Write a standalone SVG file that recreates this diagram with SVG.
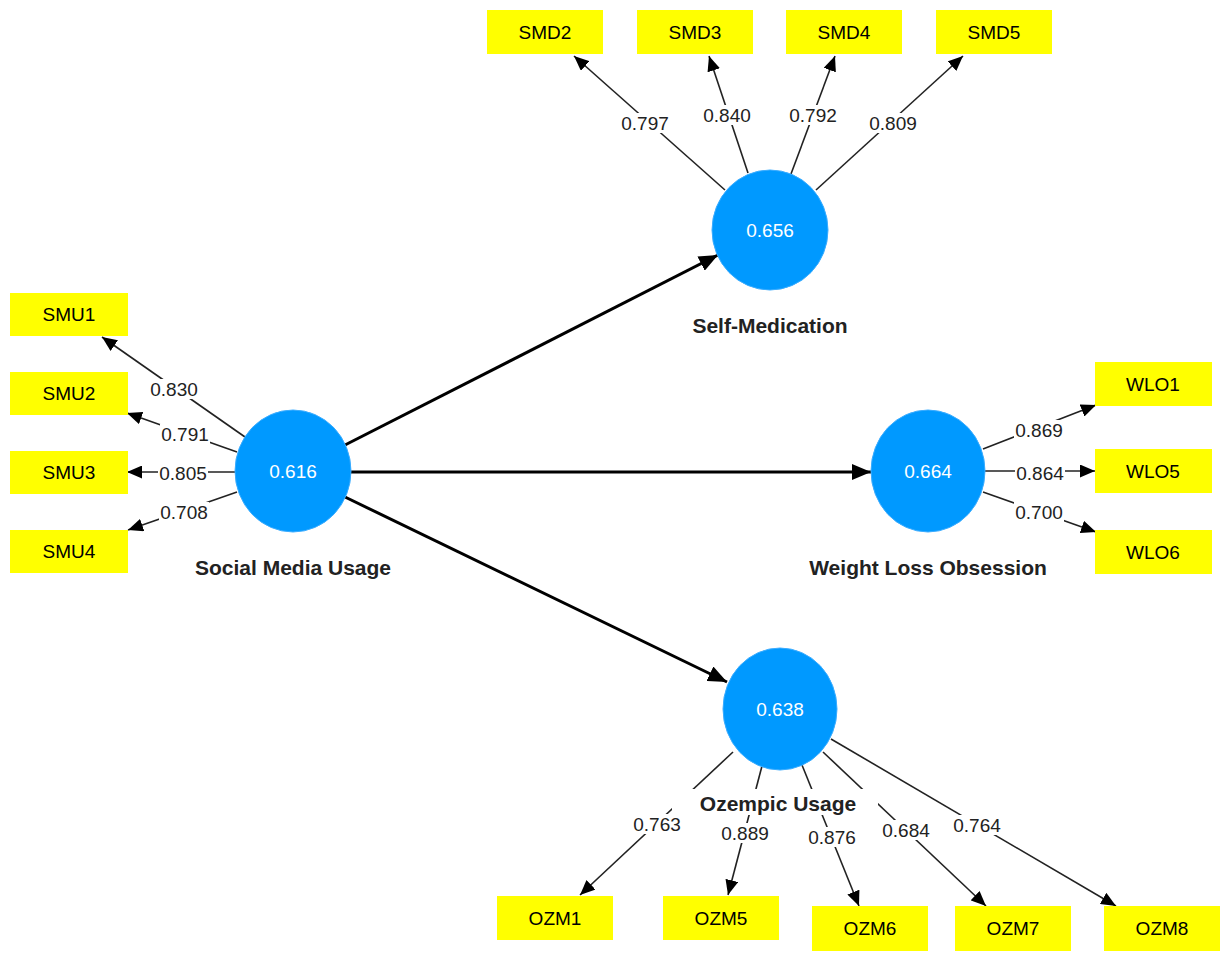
<svg xmlns="http://www.w3.org/2000/svg" width="1229" height="960" viewBox="0 0 1229 960">
<style>
.box{fill:#ffff00}
.bt{font-family:"Liberation Sans",Arial,sans-serif;font-size:19px;fill:#000;text-anchor:middle}
.lv{fill:#0099ff;stroke:#3aacff;stroke-width:1}
.lvt{font-family:"Liberation Sans",Arial,sans-serif;font-size:19px;fill:#fff;text-anchor:middle}
.name{font-family:"Liberation Sans",Arial,sans-serif;font-size:21px;font-weight:bold;fill:#222;text-anchor:middle}
.ld{stroke:#222;stroke-width:1.6;fill:none;marker-end:url(#ah)}
.st{stroke:#000;stroke-width:3;fill:none;marker-end:url(#ahb)}
.bg{fill:#fff}
.lb{font-family:"Liberation Sans",Arial,sans-serif;font-size:19px;fill:#222;text-anchor:middle}
</style>
<defs>
<marker id="ah" viewBox="0 0 10 10" refX="10" refY="5" markerUnits="userSpaceOnUse" markerWidth="15" markerHeight="13" orient="auto" preserveAspectRatio="none"><path d="M0,0 L10,5 L0,10 z" fill="#000"/></marker>
<marker id="ahb" viewBox="0 0 10 10" refX="10" refY="5" markerUnits="userSpaceOnUse" markerWidth="19" markerHeight="16" orient="auto" preserveAspectRatio="none"><path d="M0,0 L10,5 L0,10 z" fill="#000"/></marker>
</defs>
<rect width="1229" height="960" fill="#fff"/>
<g id="connectors">
<line class="ld" x1="245" y1="437" x2="102" y2="337"/>
<line class="ld" x1="237" y1="452" x2="127" y2="413"/>
<line class="ld" x1="236" y1="472" x2="127" y2="472"/>
<line class="ld" x1="237" y1="492" x2="128" y2="530"/>
<line class="ld" x1="725" y1="190" x2="574" y2="56"/>
<line class="ld" x1="748" y1="173" x2="709" y2="56"/>
<line class="ld" x1="791" y1="174" x2="835" y2="56"/>
<line class="ld" x1="816" y1="190" x2="963" y2="56"/>
<line class="ld" x1="983" y1="449" x2="1096" y2="405"/>
<line class="ld" x1="985" y1="471" x2="1095" y2="471"/>
<line class="ld" x1="983" y1="492" x2="1096" y2="532"/>
<line class="ld" x1="733" y1="752" x2="580" y2="895"/>
<line class="ld" x1="762" y1="766" x2="728" y2="895"/>
<line class="ld" x1="802" y1="765" x2="859" y2="906"/>
<line class="ld" x1="823" y1="752" x2="986" y2="906"/>
<line class="ld" x1="831" y1="739" x2="1116" y2="906"/>
<line class="st" x1="345" y1="445" x2="718" y2="255"/>
<line class="st" x1="342" y1="472" x2="871" y2="472"/>
<line class="st" x1="345" y1="497" x2="727" y2="682"/>
<g id="loadings">
<rect class="bg" x="149" y="379" width="50" height="20"/><text class="lb" x="174" y="396">0.830</text>
<rect class="bg" x="160" y="424" width="50" height="20"/><text class="lb" x="185" y="441">0.791</text>
<rect class="bg" x="158" y="463" width="50" height="20"/><text class="lb" x="183" y="480">0.805</text>
<rect class="bg" x="159" y="502" width="50" height="20"/><text class="lb" x="184" y="519">0.708</text>
<rect class="bg" x="620" y="113" width="50" height="20"/><text class="lb" x="645" y="130">0.797</text>
<rect class="bg" x="702" y="105" width="50" height="20"/><text class="lb" x="727" y="122">0.840</text>
<rect class="bg" x="788" y="105" width="50" height="20"/><text class="lb" x="813" y="122">0.792</text>
<rect class="bg" x="868" y="113" width="50" height="20"/><text class="lb" x="893" y="130">0.809</text>
<rect class="bg" x="1014" y="420" width="50" height="20"/><text class="lb" x="1039" y="437">0.869</text>
<rect class="bg" x="1015" y="463" width="50" height="20"/><text class="lb" x="1040" y="480">0.864</text>
<rect class="bg" x="1014" y="502" width="50" height="20"/><text class="lb" x="1039" y="519">0.700</text>
<rect class="bg" x="632" y="814" width="50" height="20"/><text class="lb" x="657" y="831">0.763</text>
<rect class="bg" x="720" y="823" width="50" height="20"/><text class="lb" x="745" y="840">0.889</text>
<rect class="bg" x="807" y="827" width="50" height="20"/><text class="lb" x="832" y="844">0.876</text>
<rect class="bg" x="881" y="820" width="50" height="20"/><text class="lb" x="906" y="837">0.684</text>
<rect class="bg" x="952" y="815" width="50" height="20"/><text class="lb" x="977" y="832">0.764</text>
</g>
</g>
<g id="SocialMediaUsage"><ellipse class="lv" cx="293" cy="471" rx="58" ry="61"/><text class="lvt" x="293" y="478">0.616</text><text class="name" x="293" y="575">Social Media Usage</text></g>
<g id="SelfMedication"><ellipse class="lv" cx="770" cy="230" rx="58" ry="60"/><text class="lvt" x="770" y="237">0.656</text><text class="name" x="770" y="333">Self-Medication</text></g>
<g id="WeightLossObsession"><ellipse class="lv" cx="928" cy="471" rx="57" ry="61"/><text class="lvt" x="928" y="478">0.664</text><text class="name" x="928" y="575">Weight Loss Obsession</text></g>
<g id="OzempicUsage"><ellipse class="lv" cx="780" cy="709" rx="57" ry="61"/><text class="lvt" x="780" y="716">0.638</text><rect class="bg" x="672" y="789" width="206" height="26"/><text class="name" x="778" y="811">Ozempic Usage</text></g>
<g id="SMU1"><rect class="box" x="10" y="293" width="118" height="43"/><text class="bt" x="69" y="321">SMU1</text></g>
<g id="SMU2"><rect class="box" x="10" y="372" width="118" height="43"/><text class="bt" x="69" y="400">SMU2</text></g>
<g id="SMU3"><rect class="box" x="10" y="451" width="118" height="43"/><text class="bt" x="69" y="479">SMU3</text></g>
<g id="SMU4"><rect class="box" x="10" y="530" width="118" height="43"/><text class="bt" x="69" y="558">SMU4</text></g>
<g id="SMD2"><rect class="box" x="487" y="10" width="116" height="44"/><text class="bt" x="545" y="39">SMD2</text></g>
<g id="SMD3"><rect class="box" x="637" y="10" width="116" height="44"/><text class="bt" x="695" y="39">SMD3</text></g>
<g id="SMD4"><rect class="box" x="786" y="10" width="116" height="44"/><text class="bt" x="844" y="39">SMD4</text></g>
<g id="SMD5"><rect class="box" x="936" y="10" width="116" height="44"/><text class="bt" x="994" y="39">SMD5</text></g>
<g id="WLO1"><rect class="box" x="1095" y="362" width="117" height="44"/><text class="bt" x="1153" y="391">WLO1</text></g>
<g id="WLO5"><rect class="box" x="1095" y="449" width="117" height="44"/><text class="bt" x="1153" y="478">WLO5</text></g>
<g id="WLO6"><rect class="box" x="1095" y="530" width="117" height="44"/><text class="bt" x="1153" y="559">WLO6</text></g>
<g id="OZM1"><rect class="box" x="497" y="896" width="116" height="44"/><text class="bt" x="555" y="925">OZM1</text></g>
<g id="OZM5"><rect class="box" x="663" y="896" width="116" height="44"/><text class="bt" x="721" y="925">OZM5</text></g>
<g id="OZM6"><rect class="box" x="812" y="906" width="116" height="45"/><text class="bt" x="870" y="935">OZM6</text></g>
<g id="OZM7"><rect class="box" x="955" y="906" width="116" height="45"/><text class="bt" x="1013" y="935">OZM7</text></g>
<g id="OZM8"><rect class="box" x="1104" y="906" width="116" height="45"/><text class="bt" x="1162" y="935">OZM8</text></g>
</svg>
